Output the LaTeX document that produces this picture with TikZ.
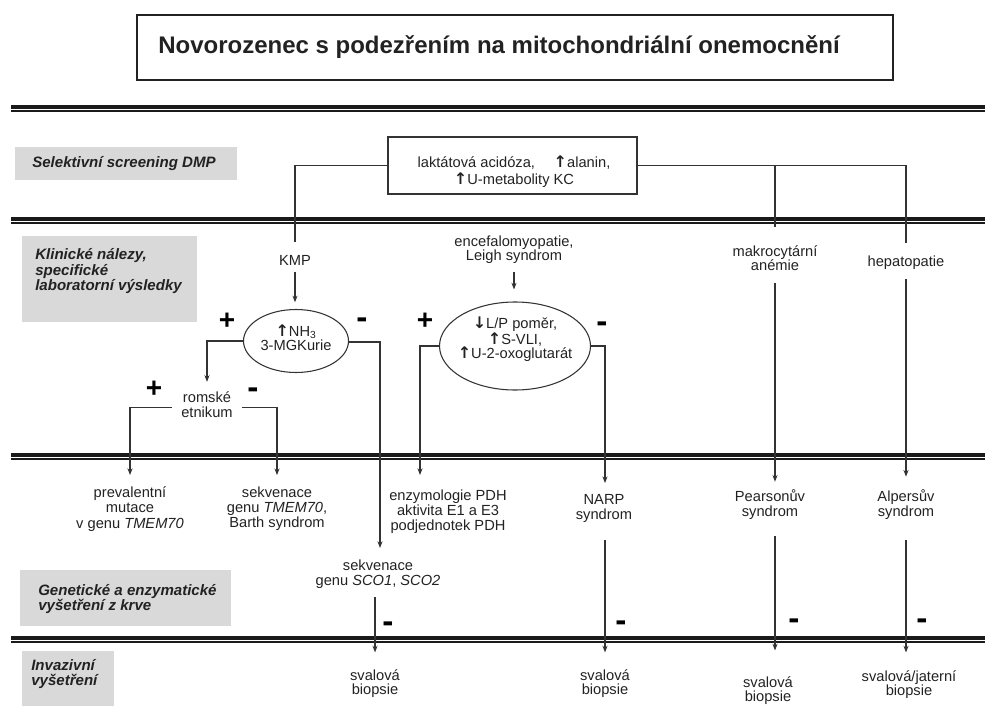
\documentclass[tikz,border=0pt]{standalone}
\usepackage{fontspec}
\setmainfont{Liberation Sans}
\newfontfamily\arrfont{DejaVu Sans}
\newcommand\uparr{{\arrfont\bfseries\fontsize{12}{12}\selectfont ↑}}
\newcommand\downarr{{\arrfont\bfseries\fontsize{12}{12}\selectfont ↓}}
\usetikzlibrary{arrows.meta,shapes.geometric}
\definecolor{txt}{HTML}{222222}
\definecolor{ln}{HTML}{333333}
\definecolor{bar}{HTML}{1A1A1A}
\definecolor{gr}{HTML}{D9D9D9}
\begin{document}
\begin{tikzpicture}[x=0.75pt,y=-0.75pt,
  every node/.style={inner sep=0pt, align=center, text=txt, font=\fontsize{11}{11.4}\selectfont},
  tight/.style={font=\fontsize{11}{10.6}\selectfont},
  lbl/.style={font=\fontsize{11.3}{11.6}\selectfont\bfseries\itshape, align=left, anchor=west},
  conn/.style={draw=ln, line width=0.8pt},
  arr/.style={conn, -{Stealth[length=5pt,width=3.8pt]}},
  plussign/.style={font=\fontsize{21}{21}\selectfont\bfseries, text=black},
  minussign/.style={font=\fontsize{25}{25}\selectfont\bfseries, text=black},
  oval/.style={ellipse, draw=ln, line width=0.8pt},
  boxst/.style={rectangle, draw=ln, line width=0.8pt},
]
\useasboundingbox (0,0) rectangle (985,713);

% double separator lines
\foreach \yy in {105,217,453,636}{
  \fill[bar] (11,\yy) rectangle (985,{\yy+4});
  \fill[bar] (11,{\yy+5}) rectangle (985,{\yy+7});
}

% grey row labels
\fill[gr] (15,147) rectangle (237,180);
\fill[gr] (22,236) rectangle (197,322);
\fill[gr] (20,570) rectangle (231,626);
\fill[gr] (22,651) rectangle (114,706);
\node[lbl] (sel) at (32,164) {Selektivní screening DMP};
\node[lbl] (kli) at (35,271.5) {Klinické nálezy,\\specifické\\laboratorní výsledky};
\node[lbl] (gen) at (38,599) {Genetické a enzymatické\\vyšetření z krve};
\node[lbl] (inv) at (31,674) {Invazivní\\vyšetření};

% title
\node[draw=txt, line width=1.5pt, minimum width=756*0.75pt, minimum height=65*0.75pt,
      font=\fontsize{18}{18}\selectfont\bfseries] (title) at (515,47.5)
      {Novorozenec s podezřením na mitochondriální onemocnění\hspace*{24pt}};

% screening box
\node[boxst, minimum width=249*0.75pt, minimum height=57*0.75pt] (lab) at (512.5,165.5) {};
\node[font=\fontsize{11}{12.5}\selectfont] (labt) at (514,171.5) {laktátová acidóza,\hspace{14pt}\uparr alanin,\\\uparr U-metabolity KC};

% clinical row
\node (kmp) at (295,260) {KMP};
\node[tight] (enc) at (514,250) {encefalomyopatie,\\Leigh syndrom};
\node[tight] (mak) at (775,258) {makrocytární\\anémie};
\node (hep) at (906,263) {hepatopatie};

\node[oval, minimum width=105*0.75pt, minimum height=63*0.75pt] (e1) at (296,341) {};
\node[tight] (e1t) at (296,338) {\uparr NH\textsubscript{3}\\3-MGKurie};
\node[oval, minimum width=151*0.75pt, minimum height=88*0.75pt] (e2) at (515,346) {};
\node[tight] (e2t) at (515,339) {\downarr L/P poměr,\\\uparr S-VLI,\\\uparr U-2-oxoglutarát};
\node (rom) at (207,404.5) {romské\\etnikum};

% genetic row
\node (prev) at (130,509) {prevalentní\\mutace\\v genu \textit{TMEM70}};
\node (sekt) at (277,509) {sekvenace\\genu \textit{TMEM70},\\Barth syndrom};
\node (enz) at (448,512) {enzymologie PDH\\aktivita E1 a E3\\podjednotek PDH};
\node (narp) at (604,508.5) {NARP\\syndrom};
\node (pear) at (770,504.5) {Pearsonův\\syndrom};
\node (alp) at (906,504.5) {Alpersův\\syndrom};
\node (sco) at (378,574) {sekvenace\\genu \textit{SCO1}, \textit{SCO2}};

% invasive row
\node[tight] (sv1) at (375,684) {svalová\\biopsie};
\node[tight] (sv2) at (605,684) {svalová\\biopsie};
\node[tight] (sv3) at (768,691) {svalová\\biopsie};
\node[tight] (sv4) at (909,685) {svalová/jaterní\\biopsie};

% signs
\node[plussign] (p1) at (227,321) {+};
\node[minussign] (m1) at (362,323) {-};
\node[plussign] (p2) at (154,389) {+};
\node[minussign] (m2) at (253,393) {-};
\node[plussign] (p3) at (425,321) {+};
\node[minussign] (m3) at (602,327) {-};
\node[minussign] (m4) at (388,627) {-};
\node[minussign] (m5) at (621,626) {-};
\node[minussign] (m6) at (794,624) {-};
\node[minussign] (m7) at (922,624) {-};

% free ends
\coordinate (enzIn) at (420,475);
\coordinate (e1R) at (380,342);

% connectors
\draw[conn] (lab.west) -| ([yshift=9.5pt]kmp.north);
\draw[conn] (lab.east) -| ([yshift=9.8pt]hep.north);
\draw[conn] (lab.east -| mak.north) -- ([yshift=14pt]mak.north);
\draw[arr, shorten <=5pt, shorten >=5pt] (kmp.south) -- (kmp.south |- e1.north);
\draw[arr, shorten >=7pt] (e1.west) -| (rom.north);
\draw[arr, shorten >=8.7pt] ([xshift=-7pt,yshift=-2pt]rom.west) -| (prev.north);
\draw[arr, shorten >=8.7pt] ([xshift=7pt,yshift=-2pt]rom.east) -| (sekt.north);
\draw[arr, shorten >=8.5pt] (e1.east |- e1R) -| (e1R |- sco.north);
\draw[arr, shorten <=6.3pt, shorten >=13pt] (sco.south -| sv1.north) -- (sv1.north);
\draw[arr, shorten <=6pt, shorten >=9pt] (enc.south) -- (enc.south |- e2.north);
\draw[arr] (e2.west) -| (enzIn);
\draw[arr, shorten >=8.25pt] (e2.east) -| ([xshift=0.75pt]narp.north);
\draw[arr, shorten <=9.5pt, shorten >=5.6pt] (mak.south) -- (mak.south |- pear.north);
\draw[arr, shorten <=6.8pt, shorten >=9.4pt] (hep.south) -- (hep.south |- alp.north);
\draw[arr, shorten <=12.75pt, shorten >=13pt] (narp.south -| sv2.north) -- (sv2.north);
\draw[arr, shorten <=12pt, shorten >=19.7pt] (pear.south -| mak.south) -- (sv3.north -| mak.south);
\draw[arr, shorten <=15pt, shorten >=13.7pt] (alp.south) -- (alp.south |- sv4.north);
\end{tikzpicture}
\end{document}
